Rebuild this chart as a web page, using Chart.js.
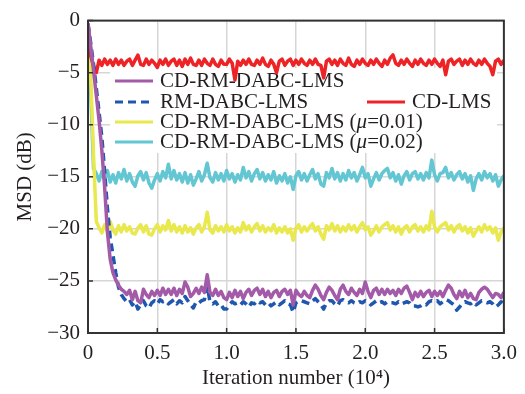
<!DOCTYPE html>
<html>
<head>
<meta charset="utf-8">
<script src="https://cdn.jsdelivr.net/npm/chart.js@4.4.0/dist/chart.umd.min.js"></script>
<style>
  body { margin: 0; background: #fff; }
  canvas { display: block; }
</style>
</head>
<body>
<canvas id="msdChart" width="525" height="394"></canvas>
<script>
// iteration number, in units of 10^4
const iterations = [
  0, 0.02, 0.04, 0.06, 0.08, 0.10, 0.12, 0.14, 0.16, 0.18,
  0.20, 0.22, 0.24, 0.26, 0.28, 0.30, 0.32, 0.34, 0.36, 0.38,
  0.40, 0.42, 0.44, 0.46, 0.48, 0.50, 0.52, 0.54, 0.56, 0.58,
  0.60, 0.62, 0.64, 0.66, 0.68, 0.70, 0.72, 0.74, 0.76, 0.78,
  0.80, 0.82, 0.84, 0.86, 0.88, 0.90, 0.92, 0.94, 0.96, 0.98,
  1.00, 1.02, 1.04, 1.06, 1.08, 1.10, 1.12, 1.14, 1.16, 1.18,
  1.20, 1.22, 1.24, 1.26, 1.28, 1.30, 1.32, 1.34, 1.36, 1.38,
  1.40, 1.42, 1.44, 1.46, 1.48, 1.50, 1.52, 1.54, 1.56, 1.58,
  1.60, 1.62, 1.64, 1.66, 1.68, 1.70, 1.72, 1.74, 1.76, 1.78,
  1.80, 1.82, 1.84, 1.86, 1.88, 1.90, 1.92, 1.94, 1.96, 1.98,
  2.00, 2.02, 2.04, 2.06, 2.08, 2.10, 2.12, 2.14, 2.16, 2.18,
  2.20, 2.22, 2.24, 2.26, 2.28, 2.30, 2.32, 2.34, 2.36, 2.38,
  2.40, 2.42, 2.44, 2.46, 2.48, 2.50, 2.52, 2.54, 2.56, 2.58,
  2.60, 2.62, 2.64, 2.66, 2.68, 2.70, 2.72, 2.74, 2.76, 2.78,
  2.80, 2.82, 2.84, 2.86, 2.88, 2.90, 2.92, 2.94, 2.96, 2.98,
  3.00
];

// MSD (dB)
const cdRmDabc = [
  -0.3, -2.5, -4.8, -7.2, -9.6, -12.5, -16.0, -20.3, -22.9, -24.2,
  -24.9, -25.4, -25.8, -26.0, -26.3, -25.9, -26.8, -26.0, -26.9, -27.1,
  -25.8, -26.3, -26.6, -26.0, -26.4, -25.9, -26.4, -25.7, -26.3, -25.8,
  -26.3, -25.7, -26.4, -25.8, -26.2, -25.1, -25.6, -26.5, -26.2, -25.7,
  -26.2, -25.6, -26.1, -24.4, -26.1, -26.4, -25.8, -26.4, -26.0, -26.6,
  -26.8, -26.1, -26.6, -25.9, -26.5, -26.0, -26.7, -26.1, -25.8, -26.4,
  -25.9, -25.7, -26.3, -25.8, -26.5, -26.0, -26.6, -26.1, -25.9, -26.5,
  -26.0, -25.8, -26.3, -25.9, -27.3, -25.9, -26.3, -26.5, -26.0, -26.4,
  -26.6, -25.9, -25.4, -25.8, -26.4, -26.8, -26.1, -25.6, -25.9, -26.4,
  -26.8, -25.8, -25.4, -26.0, -26.3, -25.7, -26.1, -26.4, -25.8, -26.2,
  -25.1, -26.0, -26.6, -25.9, -25.7, -26.3, -25.8, -26.3, -25.8, -26.2,
  -25.9, -26.4, -25.8, -26.2, -25.7, -25.5, -26.1, -26.8, -26.1, -26.5,
  -26.0, -26.5, -26.1, -25.9, -26.5, -26.0, -26.4, -26.0, -26.5, -25.9,
  -25.4, -25.7, -26.3, -26.7, -26.0, -26.5, -25.9, -26.6, -26.2, -26.7,
  -26.8, -26.1, -25.8, -25.6, -25.8, -26.2, -26.6, -26.2, -26.3, -26.6,
  -26.1
];
const rmDabc = [
  -0.3, -2.2, -4.2, -6.5, -8.8, -11.2, -14.5, -18.0, -20.8, -22.5,
  -24.2, -25.6, -26.3, -26.7, -27.0, -26.8, -27.3, -27.0, -27.7, -27.3,
  -26.9, -27.4, -27.6, -27.1, -26.9, -27.2, -26.8, -27.0, -26.9, -27.2,
  -27.0, -26.8, -27.2, -26.9, -27.1, -26.5, -26.9, -27.3, -27.6, -27.0,
  -27.1, -26.9, -26.8, -25.5, -27.0, -27.2, -27.0, -27.4, -27.3, -27.7,
  -27.7, -27.3, -27.0, -27.2, -27.1, -27.3, -27.0, -27.2, -27.5, -27.1,
  -27.2, -26.9, -27.1, -27.0, -27.3, -27.1, -27.4, -27.2, -27.0, -27.3,
  -27.1, -26.9, -27.2, -27.3, -28.0, -27.1, -26.9, -26.9, -27.0, -27.1,
  -27.2, -26.9, -26.7, -27.0, -27.3, -27.7, -27.1, -26.9, -26.9, -27.2,
  -27.4, -26.9, -26.8, -27.0, -27.1, -26.9, -27.1, -27.2, -27.0, -27.1,
  -26.9, -27.0, -27.3, -27.1, -26.9, -27.1, -27.0, -27.2, -27.0, -27.1,
  -27.1, -27.2, -27.0, -27.2, -27.1, -27.0, -27.1, -27.4, -27.4, -27.5,
  -27.4, -27.2, -27.3, -27.0, -26.9, -27.0, -26.9, -27.2, -27.0, -26.8,
  -26.9, -27.1, -27.3, -27.8, -27.5, -27.2, -27.0, -27.1, -27.2, -27.0,
  -27.3, -27.1, -26.9, -27.0, -27.1, -27.0, -27.2, -27.5, -27.3, -27.0,
  -27.2
];
const cdLms = [
  -0.3, -3.4, -4.4, -5.0, -3.8, -4.3, -3.7, -4.2, -3.8, -4.3,
  -3.7, -4.2, -3.8, -4.3, -3.9, -3.7, -4.3, -3.8, -3.3, -4.2,
  -4.3, -3.7, -4.2, -3.8, -4.1, -4.5, -3.8, -4.2, -3.7, -4.3,
  -3.9, -3.7, -4.3, -3.8, -4.4, -3.7, -4.2, -3.6, -4.2, -4.3,
  -3.8, -4.3, -3.7, -4.1, -4.3, -3.7, -4.2, -4.4, -3.8, -4.2,
  -4.2, -3.7, -4.1, -5.7, -3.9, -4.3, -3.8, -4.2, -3.7, -4.2,
  -4.3, -3.8, -4.2, -3.6, -4.2, -4.4, -3.8, -4.2, -5.0, -3.9,
  -3.7, -4.3, -3.9, -3.7, -4.3, -3.8, -4.2, -3.7, -4.1, -4.3,
  -3.8, -4.2, -3.7, -4.2, -4.3, -5.5, -3.9, -3.7, -4.2, -3.8,
  -4.3, -3.7, -4.1, -4.3, -3.6, -4.2, -4.4, -3.8, -4.2, -3.7,
  -4.1, -4.3, -3.8, -4.2, -3.7, -4.1, -4.4, -3.8, -4.2, -3.6,
  -3.3, -4.1, -4.3, -3.8, -4.2, -3.7, -4.1, -4.4, -3.8, -4.2,
  -3.7, -4.1, -4.3, -3.8, -4.2, -3.7, -4.1, -4.4, -3.8, -5.2,
  -3.9, -3.7, -4.2, -3.9, -3.7, -4.3, -3.8, -4.2, -3.7, -4.1,
  -4.3, -3.8, -4.2, -3.7, -4.1, -4.4, -5.2, -3.9, -3.7, -4.2,
  -3.8
];
const cdRmDabcMu001 = [
  -0.3, -5.5, -13.0, -19.3, -19.9, -20.4, -19.6, -20.2, -19.3, -20.1,
  -20.5, -19.7, -20.3, -19.6, -20.2, -19.8, -20.4, -20.5, -19.9, -19.6,
  -20.3, -19.7, -20.5, -20.6, -20.0, -19.6, -20.3, -19.7, -20.1, -19.2,
  -20.2, -19.6, -20.3, -19.8, -20.4, -19.7, -20.3, -19.9, -20.5, -19.9,
  -19.6, -20.3, -19.8, -18.4, -20.1, -20.4, -19.7, -20.2, -19.8, -20.3,
  -19.6, -20.2, -19.8, -20.4, -19.9, -20.3, -19.4, -20.1, -19.7, -20.3,
  -19.8, -19.5, -20.2, -19.7, -20.3, -19.9, -20.2, -19.6, -20.4, -19.9,
  -20.3, -19.8, -20.4, -20.0, -21.1, -19.9, -19.6, -20.3, -19.8, -20.2,
  -19.8, -19.5, -20.2, -19.8, -20.5, -21.0, -19.7, -20.1, -19.5, -20.2,
  -19.7, -20.3, -19.8, -20.2, -19.6, -20.1, -19.7, -20.3, -19.8, -19.4,
  -20.1, -19.8, -20.6, -20.2, -19.7, -20.3, -19.8, -19.6, -19.4, -20.1,
  -19.7, -20.3, -19.8, -20.5, -19.9, -19.7, -20.3, -19.8, -19.6, -20.2,
  -19.8, -20.3, -19.7, -20.1, -18.3, -19.8, -20.3, -19.8, -19.6, -19.4,
  -20.1, -19.7, -20.3, -19.8, -19.6, -20.2, -19.8, -20.4, -19.9, -20.7,
  -20.2, -19.8, -20.3, -19.6, -20.1, -19.8, -20.4, -19.9, -21.1, -20.3,
  -19.9
];
const cdRmDabcMu002 = [
  -0.3, -7.0, -14.2, -14.7, -15.4, -14.5, -15.3, -14.4, -15.5, -14.8,
  -15.6, -14.6, -15.2, -14.3, -15.4, -14.7, -15.5, -15.9, -14.9, -14.5,
  -15.3, -14.6, -15.6, -16.1, -15.3, -14.7, -15.4, -14.5, -15.1, -13.8,
  -15.2, -14.4, -15.3, -14.7, -15.5, -14.6, -15.6, -14.8, -15.8, -15.2,
  -14.5, -15.4, -14.8, -13.7, -15.1, -15.5, -14.6, -15.3, -14.7, -15.4,
  -14.4, -15.2, -14.7, -15.5, -14.8, -15.3, -14.1, -15.1, -14.5, -15.4,
  -14.7, -14.3, -15.2, -14.6, -15.4, -14.8, -15.3, -14.5, -15.6, -14.9,
  -15.4, -14.7, -15.6, -15.0, -16.2, -14.9, -14.5, -15.3, -14.7, -15.4,
  -14.8, -14.3, -15.2, -14.7, -15.7, -15.9, -14.6, -15.1, -14.2, -15.2,
  -14.6, -15.4, -14.7, -15.3, -14.4, -15.1, -14.6, -15.4, -14.8, -14.1,
  -15.1, -14.7, -15.9, -15.2, -14.6, -15.3, -14.7, -14.4, -14.2, -15.1,
  -14.6, -15.4, -14.8, -15.7, -14.9, -14.5, -15.3, -14.7, -14.5, -15.2,
  -14.7, -15.3, -14.6, -15.1, -13.4, -14.8, -15.4, -14.7, -14.6, -14.1,
  -15.1, -14.6, -15.3, -14.8, -14.5, -15.2, -14.7, -15.5, -14.9, -16.3,
  -15.2, -14.7, -15.3, -14.5, -15.1, -14.7, -15.4, -14.8, -15.9, -15.3,
  -14.9
];

const xTicks = [0, 0.5, 1.0, 1.5, 2.0, 2.5, 3.0];
const yTicks = [0, -5, -10, -15, -20, -25, -30];

const FONT = "'Liberation Serif', 'Times New Roman', serif";
const TEXT = '#231f20';

function pts(values) {
  return iterations.map((x, i) => ({ x: x, y: values[i] }));
}

// legend drawn by hand: two entries share the second row
const legendSlots = [
  { x: 115, y: 81 },
  { x: 115, y: 102 },
  { x: 367, y: 102 },
  { x: 115, y: 122 },
  { x: 115, y: 142 }
];

const legendPlugin = {
  id: 'paperLegend',
  beforeDatasetsDraw(chart) {
    const ctx = chart.ctx;
    ctx.save();
    ctx.fillStyle = '#fff';
    ctx.fillRect(110, 68, 387, 85);
    chart.data.datasets.forEach((ds, i) => {
      const s = legendSlots[i];
      ctx.strokeStyle = ds.borderColor;
      ctx.lineWidth = 3;
      ctx.setLineDash(ds.borderDash || []);
      ctx.beginPath();
      ctx.moveTo(s.x, s.y);
      ctx.lineTo(s.x + 38, s.y);
      ctx.stroke();
      ctx.setLineDash([]);
      ctx.fillStyle = TEXT;
      ctx.textBaseline = 'middle';
      ctx.textAlign = 'left';
      let tx = s.x + 45;
      const parts = ds.label.split('μ');
      parts.forEach((p, k) => {
        if (k > 0) {
          ctx.font = 'italic 21px ' + FONT;
          ctx.fillText('μ', tx, s.y);
          tx += ctx.measureText('μ').width;
        }
        ctx.font = '21px ' + FONT;
        ctx.fillText(p, tx, s.y);
        tx += ctx.measureText(p).width;
      });
    });
    ctx.restore();
  },
  afterDraw(chart) {
    const ctx = chart.ctx;
    const a = chart.chartArea;
    const xs = chart.scales.x, ys = chart.scales.y;
    ctx.save();
    ctx.strokeStyle = '#333';
    ctx.lineWidth = 1.5;
    ctx.beginPath();
    xTicks.forEach(v => {
      const px = xs.getPixelForValue(v);
      ctx.moveTo(px, a.bottom);
      ctx.lineTo(px, a.bottom - 5);
    });
    yTicks.forEach(v => {
      const py = ys.getPixelForValue(v);
      ctx.moveTo(a.left, py);
      ctx.lineTo(a.left + 5, py);
    });
    ctx.stroke();
    ctx.lineWidth = 2;
    ctx.strokeRect(a.left, a.top, a.right - a.left, a.bottom - a.top);
    ctx.restore();
  }
};

const ctx = document.getElementById('msdChart').getContext('2d');

new Chart(ctx, {
  type: 'line',
  data: {
    datasets: [
      { label: 'CD-RM-DABC-LMS', data: pts(cdRmDabc), borderColor: '#a35aa8', borderWidth: 3.5 },
      { label: 'RM-DABC-LMS', data: pts(rmDabc), borderColor: '#1f57b0', borderWidth: 3.5, borderDash: [8, 5] },
      { label: 'CD-LMS', data: pts(cdLms), borderColor: '#ee2326', borderWidth: 3.5 },
      { label: 'CD-RM-DABC-LMS (μ=0.01)', data: pts(cdRmDabcMu001), borderColor: '#e9e84c', borderWidth: 3.5 },
      { label: 'CD-RM-DABC-LMS (μ=0.02)', data: pts(cdRmDabcMu002), borderColor: '#62c6d3', borderWidth: 3.5 }
    ]
  },
  options: {
    responsive: false,
    animation: false,
    events: [],
    layout: { padding: { top: 7, right: 21, left: 0, bottom: 0 } },
    elements: {
      point: { radius: 0 },
      line: { tension: 0, borderJoinStyle: 'round', fill: false }
    },
    plugins: {
      legend: { display: false },
      tooltip: { enabled: false }
    },
    scales: {
      x: {
        type: 'linear',
        min: 0,
        max: 3,
        afterFit(scale) { scale.height = 61; },
        afterBuildTicks(scale) { scale.ticks = xTicks.map(v => ({ value: v })); },
        border: { display: false },
        grid: { color: '#d6d6d6', lineWidth: 1.5, drawTicks: false },
        ticks: {
          padding: 8,
          color: TEXT,
          font: { family: FONT, size: 21 },
          callback: v => (v === 0 ? '0' : v.toFixed(1))
        },
        title: {
          display: true,
          text: 'Iteration number (10⁴)',
          color: TEXT,
          font: { family: FONT, size: 21 },
          padding: { top: 0, bottom: 3 }
        }
      },
      y: {
        min: -30,
        max: 0,
        afterFit(scale) { scale.width = 88; },
        afterBuildTicks(scale) { scale.ticks = yTicks.map(v => ({ value: v })); },
        border: { display: false },
        grid: { color: '#d6d6d6', lineWidth: 1.5, drawTicks: false },
        ticks: {
          padding: 8,
          color: TEXT,
          font: { family: FONT, size: 21 },
          callback: v => (v < 0 ? '\u2212' + Math.abs(v) : String(v))
        },
        title: {
          display: true,
          text: 'MSD (dB)',
          color: TEXT,
          font: { family: FONT, size: 21 },
          padding: { top: 13, bottom: 0 }
        }
      }
    }
  },
  plugins: [legendPlugin]
});
</script>
</body>
</html>
